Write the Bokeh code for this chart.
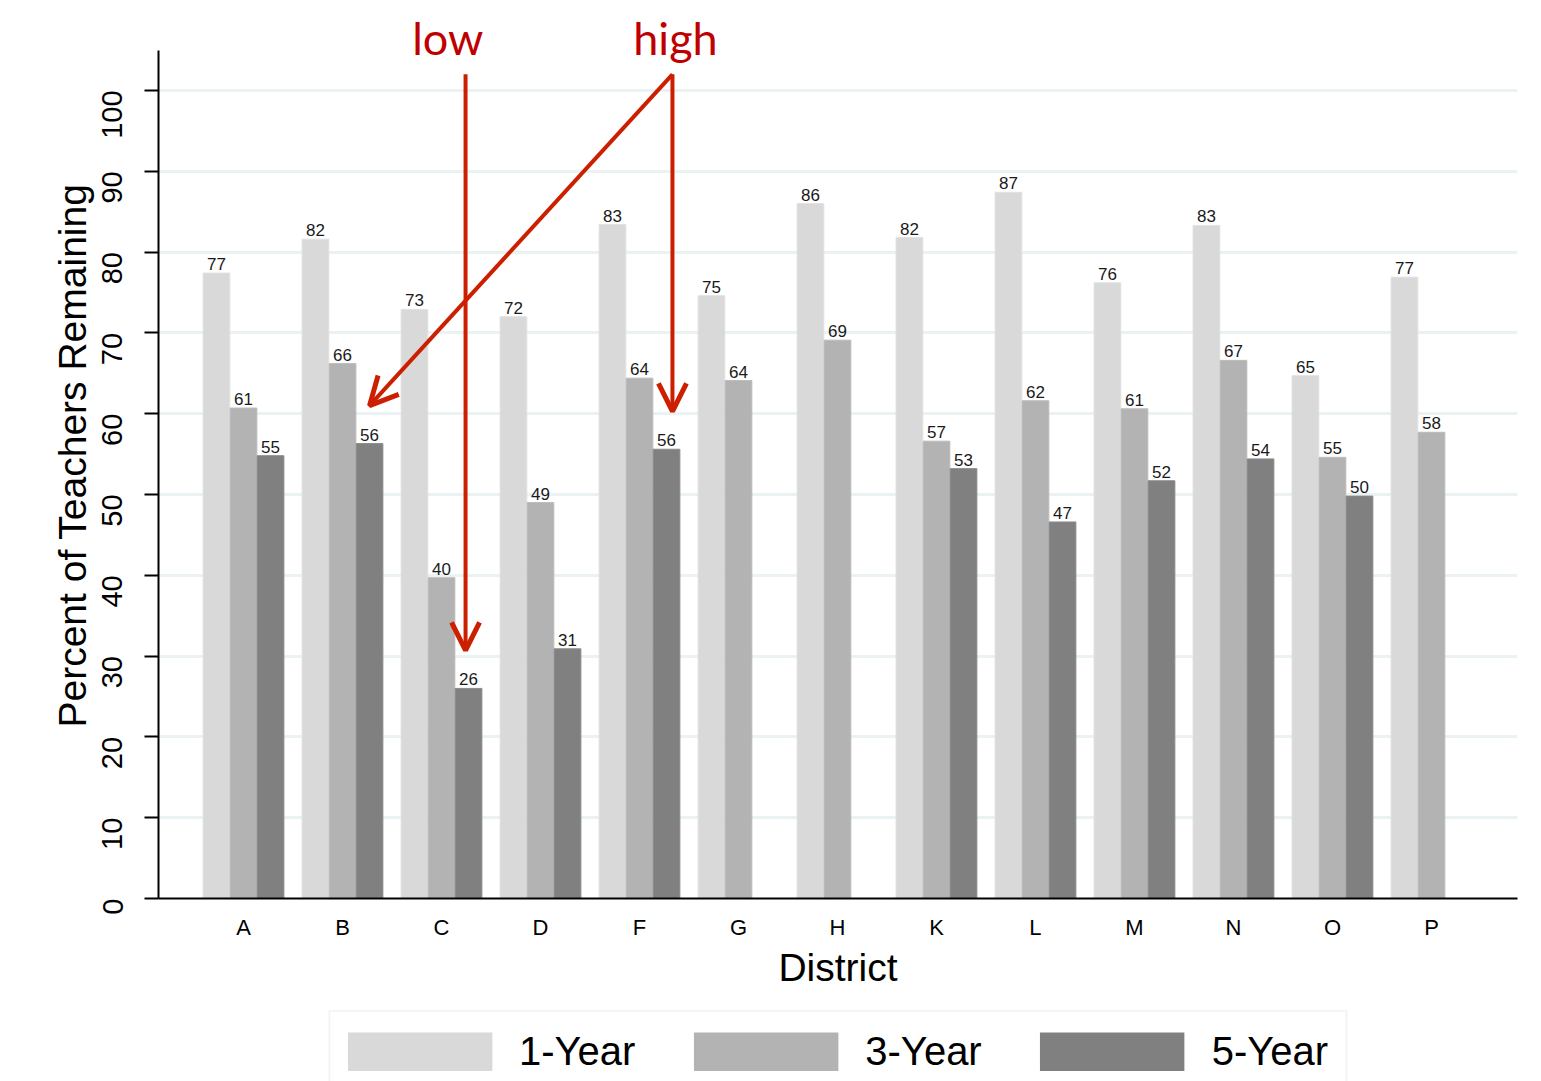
import math
from bokeh.plotting import figure
from bokeh.layouts import column
from bokeh.models import Range1d, FixedTicker, Legend, LegendItem, Arrow, OpenHead, Label
from bokeh.embed import file_html
from bokeh.resources import INLINE
from bokeh.core.properties import value

# ---------------- data ----------------
districts = ["A", "B", "C", "D", "F", "G", "H", "K", "L", "M", "N", "O", "P"]
one_year = [77.4, 81.6, 72.9, 72.0, 83.4, 74.6, 86.0, 81.8, 87.4, 76.2, 83.3, 64.7, 76.9]
three_year = [60.7, 66.2, 39.7, 49.0, 64.4, 64.1, 69.1, 56.6, 61.6, 60.6, 66.6, 54.6, 57.7]
five_year = [54.8, 56.3, 26.0, 30.9, 55.6, None, None, 53.2, 46.6, 51.7, 54.4, 49.8, None]
series_names = ["1-Year", "3-Year", "5-Year"]
y_ticks = [0, 10, 20, 30, 40, 50, 60, 70, 80, 90, 100]

# annotation targets
low_target = ("C", "5-Year")
high_targets = [("B", "5-Year"), ("F", "5-Year")]

# ---------------- style ----------------
series_vals = [one_year, three_year, five_year]
fill_colors = ["#d9d9d9", "#b3b3b3", "#808080"]
edge_colors = ["#e1e1e1", "#bbbbbb", "#8a8a8a"]
offsets = [-0.273, 0.0, 0.273]
bar_w = 0.27
red_text = "#c00000"
red_arrow = "#cc1f00"
FONT = "Liberation Sans"

p = figure(width=1541, height=1010, output_backend="svg", toolbar_location=None,
           x_range=Range1d(-0.8586, 12.869), y_range=Range1d(0, 109.65),
           min_border_left=158, min_border_right=24, min_border_top=12, min_border_bottom=112)
p.outline_line_color = None
p.background_fill_color = "white"
p.border_fill_color = "white"
p.xgrid.visible = False
p.ygrid.grid_line_color = "#eaf2f3"
p.ygrid.grid_line_width = 3

# legend strip (second figure below the chart); its y range lies above all data,
# so its series lines stay out of view and only serve as legend swatches
lg = figure(width=1541, height=71, output_backend="svg", toolbar_location=None,
            x_range=Range1d(-0.8586, 12.869), y_range=Range1d(200, 300),
            min_border_left=158, min_border_right=24, min_border_top=0, min_border_bottom=0)
lg.axis.visible = False
lg.grid.visible = False
lg.outline_line_color = None
lg.border_fill_color = "white"
lg.background_fill_color = "white"

leg_renderers = []
for k, vals in enumerate(series_vals):
    xs = [i + offsets[k] for i, v in enumerate(vals) if v is not None]
    tops = [v for v in vals if v is not None]
    p.vbar(x=xs, top=tops, bottom=0, width=bar_w, fill_color=fill_colors[k],
           line_color=edge_colors[k], line_width=1)
    p.text(x=xs, y=tops, text=[f"{round(v)}" for v in tops], text_align="center",
           text_baseline="alphabetic", y_offset=-9, text_font=value(FONT),
           text_font_size="17px", text_color="#1a1a1a")
    leg_renderers.append(lg.line(x=xs, y=tops, line_width=39, line_color=fill_colors[k],
                                 line_cap="butt"))

# axes
ya = p.yaxis[0]
ya.ticker = FixedTicker(ticks=y_ticks)
ya.bounds = (0, 105)
ya.major_label_orientation = math.pi / 2
ya.major_label_text_font = FONT
ya.major_label_text_font_size = "29px"
ya.major_label_text_color = "black"
ya.major_label_standoff = 32
ya.major_tick_out = 14
ya.major_tick_in = 0
ya.minor_tick_out = 0
ya.minor_tick_in = 0
ya.axis_line_width = 2
ya.major_tick_line_width = 2
ya.axis_label = "Percent of Teachers Remaining"
ya.axis_label_text_font = FONT
ya.axis_label_text_font_size = "39px"
ya.axis_label_text_font_style = "normal"
ya.axis_label_text_color = "black"
ya.axis_label_standoff = -4

xa = p.xaxis[0]
xa.ticker = FixedTicker(ticks=list(range(len(districts))))
xa.major_label_overrides = {i: d for i, d in enumerate(districts)}
xa.major_label_text_font = FONT
xa.major_label_text_font_size = "22px"
xa.major_label_text_color = "black"
xa.major_label_standoff = 16
xa.major_tick_out = 0
xa.major_tick_in = 0
xa.minor_tick_out = 0
xa.minor_tick_in = 0
xa.axis_line_width = 2
xa.axis_label = "District"
xa.axis_label_text_font = FONT
xa.axis_label_text_font_size = "39px"
xa.axis_label_text_font_style = "normal"
xa.axis_label_text_color = "black"
xa.axis_label_standoff = 3

# annotations
def bar_x(target, nudge=0.0):
    d, s = target
    return districts.index(d) + offsets[series_names.index(s)] + nudge

def bar_val(target):
    d, s = target
    return series_vals[series_names.index(s)][districts.index(d)]

arrow_top = 102.0
tip_gap = 4.7

lx = bar_x(low_target, -0.03)
p.add_layout(Arrow(end=OpenHead(size=28, line_color=red_arrow, line_width=5),
                   x_start=lx, y_start=arrow_top, x_end=lx, y_end=bar_val(low_target) + tip_gap,
                   line_color=red_arrow, line_width=4))

hx = bar_x(high_targets[1], 0.06)
for t in high_targets:
    ex = hx if t == high_targets[1] else bar_x(t)
    p.add_layout(Arrow(end=OpenHead(size=28, line_color=red_arrow, line_width=5),
                       x_start=hx, y_start=arrow_top, x_end=ex, y_end=bar_val(t) + tip_gap,
                       line_color=red_arrow, line_width=4))

p.add_layout(Label(x=lx - 0.18, y=106.5, text="low", text_align="center", text_baseline="middle",
                   text_font="Lato", text_font_size="45px", text_color=red_text))
p.add_layout(Label(x=hx + 0.03, y=106.5, text="high", text_align="center", text_baseline="middle",
                   text_font="Lato", text_font_size="45px", text_color=red_text))

# legend
legend = Legend(items=[LegendItem(label=n, renderers=[r]) for n, r in zip(series_names, leg_renderers)],
                location="top_center", orientation="horizontal",
                glyph_width=145, glyph_height=39, label_standoff=27, spacing=58, padding=17,
                label_text_font=FONT, label_text_font_size="40px", label_text_color="black",
                border_line_color="#e3ecee", border_line_width=2, background_fill_color="white",
                background_fill_alpha=1.0, margin=0)
lg.add_layout(legend)

layout = column(p, lg, spacing=0)
open("out.html", "w").write(file_html(layout, INLINE))
